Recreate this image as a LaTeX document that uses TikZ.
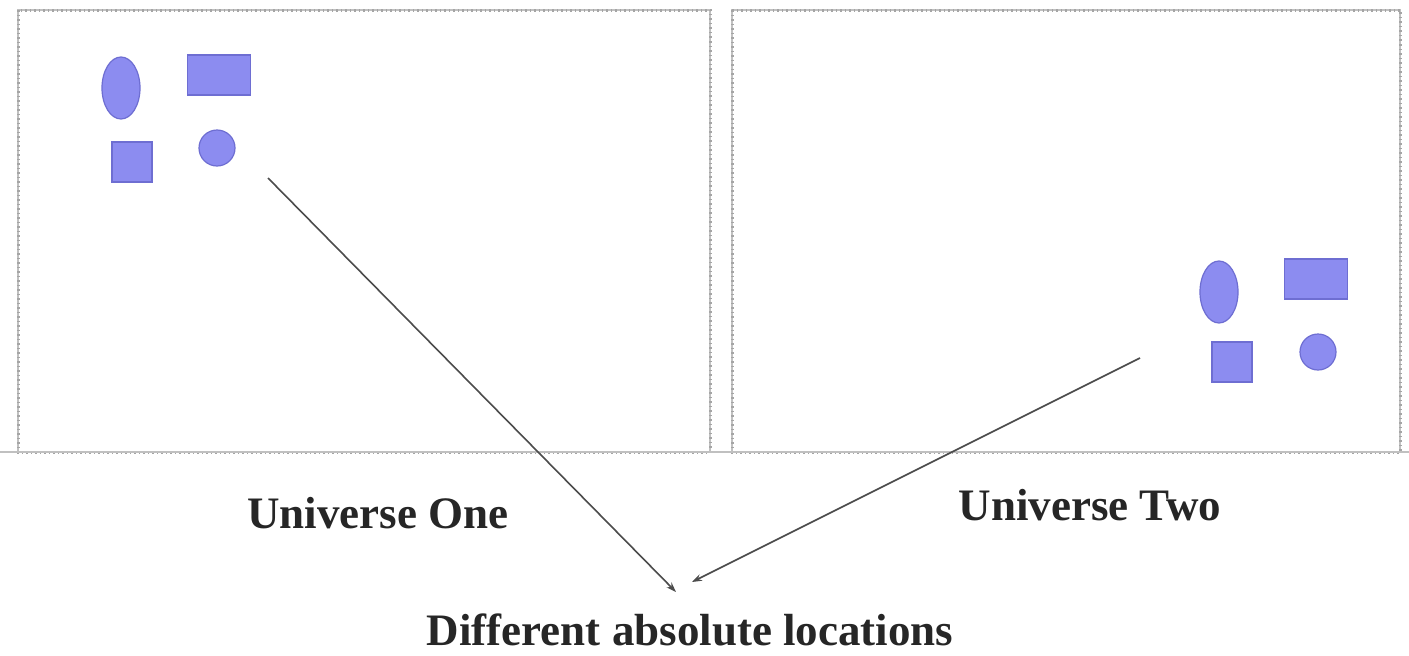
\documentclass[tikz,border=0pt]{standalone}
\usepackage{fontspec}
\setmainfont{Liberation Serif}
\usetikzlibrary{shapes.geometric,arrows.meta}
\definecolor{shapefill}{RGB}{140,140,240}
\definecolor{shapedraw}{RGB}{110,110,210}
\definecolor{frame}{RGB}{165,165,165}
\tikzset{
  shp/.style={fill=shapefill,draw=shapedraw,line width=1.2pt,inner sep=0pt},
  ell/.style={shp,ellipse,minimum width=38pt,minimum height=62pt},
  rct/.style={shp,rectangle,minimum width=63pt,minimum height=40pt},
  sqr/.style={shp,rectangle,minimum width=40pt,minimum height=40pt},
  crc/.style={shp,circle,minimum size=36pt},
  framebox/.style={draw=frame,line width=3pt,dash pattern=on 1.5pt off 3pt},
  frameline/.style={draw=frame!70,line width=1.6pt},
  lbl/.style={font=\fontsize{45}{50}\selectfont\bfseries,text=black!85,inner sep=0pt},
  conn/.style={draw=black!70,line width=1.6pt,-{Stealth[length=10pt,width=7pt]}}
}
\begin{document}
\begin{tikzpicture}[x=1pt,y=-1pt]
\useasboundingbox[fill=white] (0,0) rectangle (1409,656);
% frames
\draw[frameline] (18,10) rectangle (710,452);
\draw[framebox] (18,10) rectangle (710,452);
\draw[frameline] (732,10) rectangle (1400,452);
\draw[framebox] (732,10) rectangle (1400,452);
\draw[frameline] (0,452) -- (1409,452);
% universe one shapes
\node[ell] (e1) at (121,88) {};
\node[rct] (r1) at (219,75) {};
\node[sqr] (s1) at (132,162) {};
\node[crc] (c1) at (217,148) {};
% universe two shapes
\node[ell] (e2) at (1219,292) {};
\node[rct] (r2) at (1316,279) {};
\node[sqr] (s2) at (1232,362) {};
\node[crc] (c2) at (1318,352) {};
% labels
\node[lbl] (u1) at (378,513) {Universe One};
\node[lbl] (u2) at (1090,505) {Universe Two};
\node[lbl] (dl) at (690,630) {Different absolute locations};
% connectors
\coordinate (a1) at (268,178);
\coordinate (t1) at (676,592);
\coordinate (a2) at (1140,358);
\coordinate (t2) at (692,582);
\draw[conn] (a1) -- (t1);
\draw[conn] (a2) -- (t2);
\end{tikzpicture}
\end{document}
